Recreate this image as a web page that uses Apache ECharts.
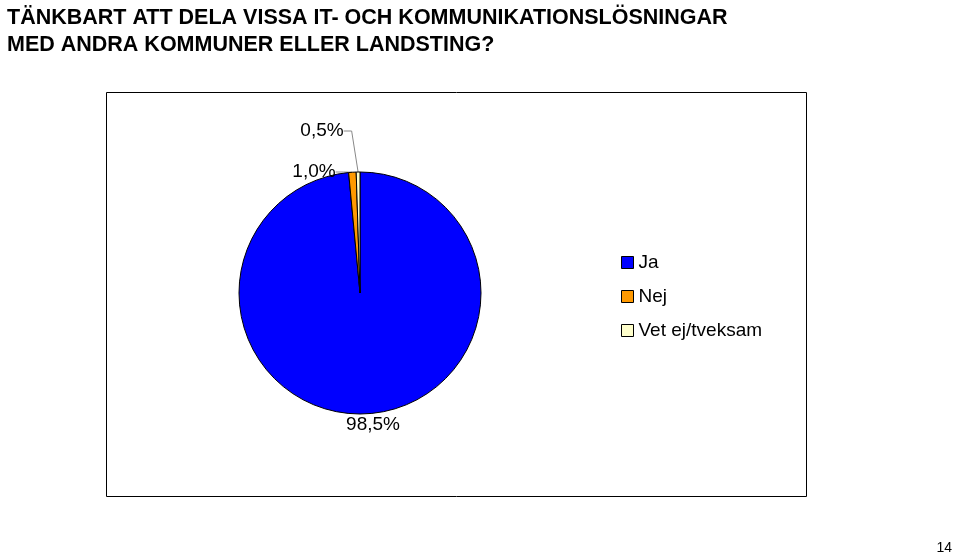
<!DOCTYPE html>
<html><head><meta charset="utf-8">
<script src="https://cdn.jsdelivr.net/npm/echarts@6/dist/echarts.min.js"></script>
<style>html,body{margin:0;padding:0;background:#fff}#c{width:960px;height:557px}</style>
</head><body><div id="c"></div>
<script>
const categories = ["Ja", "Nej", "Vet ej/tveksam"];
const values = [98.5, 1.0, 0.5];
const colors = ["#0000FF", "#FF9900", "#FFFFCC"];
const titleLines = ["TÄNKBART ATT DELA VISSA IT- OCH KOMMUNIKATIONSLÖSNINGAR", "MED ANDRA KOMMUNER ELLER LANDSTING?"];
const labelPos = [[373, 425], [314, 172], [322, 131]];
const fmt = v => v.toFixed(1).replace('.', ',') + '%';
const chart = echarts.init(document.getElementById('c'));
chart.setOption({
  animation: false,
  title: { text: titleLines.join('\n'), left: 2, top: 0, textStyle: { fontFamily: 'Liberation Sans', fontWeight: 'bold', fontSize: 21.5, color: '#000', lineHeight: 27 } },
  graphic: [
    { type: 'rect', shape: { x: 106.5, y: 92.5, width: 700, height: 404 }, style: { fill: 'none', stroke: '#000', lineWidth: 1 } },
    { type: 'text', right: 8, bottom: 2, style: { text: '14', font: '14px Liberation Sans', fill: '#000' } }
  ],
  legend: {
    orient: 'vertical', left: 616, top: 248, itemWidth: 12, itemHeight: 12, itemGap: 15,
    icon: 'rect', textStyle: { fontFamily: 'Liberation Sans', fontSize: 19, color: '#000' },
    itemStyle: { borderColor: '#000', borderWidth: 1 },
    data: categories
  },
  series: [{
    type: 'pie', center: [360, 293], radius: 121, startAngle: 90, clockwise: true,
    itemStyle: { borderColor: '#000', borderWidth: 1 },
    label: { show: true, formatter: p => fmt(p.value), fontFamily: 'Liberation Sans', fontSize: 19, color: '#000' },
    labelLine: { show: true, lineStyle: { color: '#888', width: 1 }, length: 8, length2: 8 },
    labelLayout: p => ({ x: labelPos[p.dataIndex][0], y: labelPos[p.dataIndex][1], align: 'center', verticalAlign: 'middle' }),
    data: categories.map((c, i) => ({ name: c, value: values[i], itemStyle: { color: colors[i] }, labelLine: { show: i > 0 } }))
  }]
});
</script></body></html>
